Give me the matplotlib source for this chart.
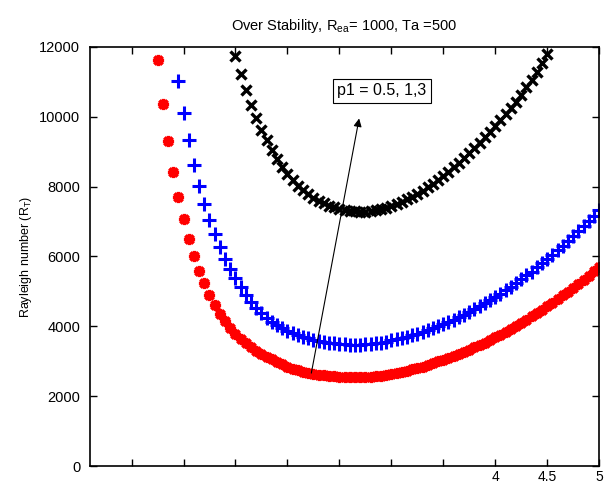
import numpy as np
import matplotlib
matplotlib.use('Agg')
import matplotlib.pyplot as plt

plt.rcParams['font.family'] = ['Liberation Sans', 'DejaVu Sans']
plt.rcParams['mathtext.fontset'] = 'custom'
plt.rcParams['mathtext.rm'] = 'Liberation Sans'
plt.rcParams['mathtext.it'] = 'Liberation Sans'

# wave number grid step and first visible point of each curve
step = 0.05
a0_red, a0_blue, a0_black = 0.75, 0.95, 1.50

# p1 = 0.5
r_red = [11630, 10370, 9300, 8430, 7700, 7060, 6500, 6010, 5590, 5230,
         4910, 4620, 4360, 4140, 3950, 3785, 3640, 3515, 3405, 3305,
         3215, 3132, 3055, 2980, 2910, 2845, 2787, 2740, 2700, 2668,
         2640, 2618, 2600, 2585, 2572, 2562, 2553, 2547, 2545, 2546,
         2551, 2560, 2573, 2590, 2611, 2636, 2664, 2695, 2729, 2766,
         2806, 2849, 2895, 2943, 2993, 3045, 3099, 3155, 3213, 3273,
         3335, 3399, 3466, 3536, 3609, 3684, 3762, 3843, 3926, 4012,
         4100, 4190, 4283, 4378, 4475, 4574, 4676, 4780, 4886, 4994,
         5105, 5218, 5333, 5450, 5569, 5690]

# p1 = 1
r_blue = [11030, 10120, 9320, 8610, 8020, 7500, 7030, 6630, 6260, 5930,
          5645, 5375, 5125, 4900, 4700, 4525, 4375, 4245, 4135, 4040,
          3955, 3880, 3815, 3760, 3705, 3660, 3620, 3585, 3560, 3535,
          3513, 3496, 3484, 3477, 3475, 3477, 3484, 3496, 3513, 3535,
          3562, 3595, 3628, 3664, 3703, 3745, 3790, 3838, 3889, 3943,
          4001, 4062, 4126, 4193, 4263, 4337, 4414, 4494, 4577, 4663,
          4752, 4844, 4938, 5035, 5135, 5238, 5345, 5455, 5568, 5684,
          5803, 5925, 6051, 6180, 6312, 6447, 6585, 6726, 6870, 7017,
          7167, 7320]

# p1 = 3
r_black = [11730, 11234, 10764, 10344, 9959, 9619, 9320, 9050, 8800, 8570,
           8360, 8180, 8025, 7890, 7775, 7675, 7590, 7518, 7458, 7408,
           7368, 7336, 7311, 7294, 7285, 7286, 7300, 7324, 7356, 7396,
           7444, 7500, 7563, 7633, 7710, 7794, 7884, 7981, 8084, 8193,
           8308, 8428, 8554, 8685, 8821, 8962, 9108, 9258, 9413, 9573,
           9737, 9905, 10077, 10253, 10433, 10630, 10840, 11060, 11290, 11535,
           11790]

xticks = [0.5, 1, 1.5, 2, 2.5, 3, 3.5, 4, 4.5, 5]
xticklabels = ['', '', '', '', '', '', '', '4', '4.5', '5']
yticks = [0, 2000, 4000, 6000, 8000, 10000, 12000]


def grid(a0, vals):
    return np.round(a0 + step * np.arange(len(vals)), 2)


fig = plt.figure(figsize=(6.04, 4.88), dpi=100)
ax = fig.add_axes([0.149, 0.045, 0.843, 0.859])

ax.plot(grid(a0_red, r_red), r_red, linestyle='none', marker=(8, 2, 0),
        ms=8, mew=2.4, color='#ff0000')
ax.plot(grid(a0_blue, r_blue), r_blue, linestyle='none', marker='+',
        ms=10, mew=2.2, color='#0000ff')
ax.plot(grid(a0_black, r_black), r_black, linestyle='none', marker='x',
        ms=7, mew=2.4, color='black')

ax.set_xlim(0.1, 5)
ax.set_ylim(0, 12000)
ax.set_xticks(xticks)
ax.set_xticklabels(xticklabels)
ax.set_yticks(yticks)
ax.tick_params(direction='in', length=5, width=1, labelsize=10.5,
               top=True, right=True, pad=7)
ax.tick_params(axis='x', pad=3, labelsize=10)
for s in ax.spines.values():
    s.set_linewidth(1.2)

ax.set_title(r'Over Stability, R$_{ea}$= 1000, Ta =500', fontsize=10.5, pad=12)
ax.set_ylabel(r'Rayleigh number (R$_T$)', fontsize=9)

ax.annotate('', xy=(2.69, 9950), xytext=(2.23, 2660),
            arrowprops=dict(arrowstyle='-|>', lw=0.8, color='black',
                            mutation_scale=12, shrinkA=0, shrinkB=0))
ax.text(2.48, 10740, 'p1 = 0.5, 1,3', fontsize=11.5, ha='left', va='center',
        bbox=dict(boxstyle='square,pad=0.3', fc='white', ec='black', lw=0.8))

fig.savefig('out.png', dpi=100)
